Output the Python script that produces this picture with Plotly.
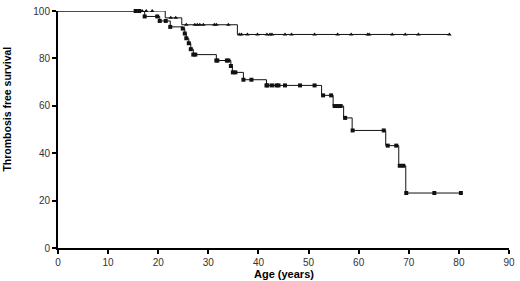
import numpy as np
import plotly.graph_objects as go

# Lower curve (squares): step times and survival after each step
low_times = [0, 17.3, 20.3, 22.4, 24.9, 25.3, 25.6, 26.1, 26.5, 27.0, 31.6, 34.5, 34.8,
             37.0, 41.6, 52.6, 54.9, 57.0, 58.7, 65.4, 68.0, 69.4]
low_surv = [100, 97.7, 95.8, 93.3, 92.6, 90.5, 88.5, 86.4, 83.9, 81.6, 79.1, 76.8, 74.1,
            71.0, 68.6, 64.4, 59.9, 54.9, 49.6, 43.2, 34.7, 23.2]
low_end = 80.4
low_marks = [15.5, 16.2, 17.3, 19.8, 20.3, 21.5, 22.4, 24.9, 25.3, 25.6, 26.1, 26.5, 27.0, 27.4,
             31.6, 31.8, 33.7, 34.0, 34.5, 34.9, 35.4, 37.0, 38.6, 41.6, 41.8, 42.7, 43.6, 44.0,
             45.3, 48.3, 51.2, 52.9, 54.5, 55.2, 55.8, 56.4, 57.3, 58.8, 65.0, 65.8, 67.5,
             68.2, 68.9, 69.5, 75.1, 80.4]

# Upper curve (triangles)
up_times = [0, 21.4, 24.7, 35.8]
up_surv = [100, 97.1, 94.2, 90.1]
up_end = 78.1
up_marks = [16.8, 17.6, 18.8, 22.5, 23.5, 25.6, 27.3, 27.8, 28.3, 29.0, 31.2, 31.6, 34.0,
            36.2, 36.6, 37.8, 39.8, 41.7, 42.3, 42.7, 45.3, 46.6, 51.2, 55.8, 58.5, 61.8,
            62.1, 66.7, 69.3, 71.9, 78.1]

x_ticks = [0, 10, 20, 30, 40, 50, 60, 70, 80, 90]
y_ticks = [0, 20, 40, 60, 80, 100]


def step_xy(times, surv, end):
    return list(times) + [end], list(surv) + [surv[-1]]


def level_at(times, surv, ages):
    idx = np.searchsorted(np.array(times), np.array(ages), side="right") - 1
    return [surv[i] for i in idx]


fig = go.Figure()
for times, surv, end, marks, sym in [
    (up_times, up_surv, up_end, up_marks, "triangle-up"),
    (low_times, low_surv, low_end, low_marks, "square"),
]:
    sx, sy = step_xy(times, surv, end)
    fig.add_trace(go.Scatter(x=sx, y=sy, mode="lines", line=dict(color="#111", width=1, shape="hv"),
                             showlegend=False, hoverinfo="skip", cliponaxis=False))
    fig.add_trace(go.Scatter(x=marks, y=level_at(times, surv, marks), mode="markers",
                             marker=dict(symbol=sym, size=4, color="#111"), showlegend=False,
                             cliponaxis=False))

tickfont = dict(family="Liberation Sans, Arial", size=10, color="#333")
axis_common = dict(showline=True, linewidth=2, linecolor="black", ticks="outside", ticklen=4,
                   tickwidth=1.5, tickcolor="black", showgrid=False, zeroline=False,
                   tickfont=tickfont, ticklabeloverflow="allow")
fig.update_layout(
    width=520, height=281,
    margin=dict(l=58, r=6, t=5, b=33),
    plot_bgcolor="white", paper_bgcolor="white",
    xaxis=dict(range=[0, 90], tickvals=x_ticks, **axis_common),
    yaxis=dict(range=[0, 100], tickvals=y_ticks, **axis_common),
    annotations=[
        dict(text="<b>Thrombosis free survival</b>", xref="paper", yref="paper", x=-0.112, y=0.586,
             textangle=-90, showarrow=False, xanchor="center", yanchor="middle",
             font=dict(family="Liberation Sans, Arial", size=10.5, color="black")),
        dict(text="<b>Age (years)</b>", xref="paper", yref="paper", x=0.5, y=-0.11,
             showarrow=False, xanchor="center", yanchor="middle",
             font=dict(family="Liberation Sans, Arial", size=11, color="black")),
    ],
)
fig.write_html("out.html", config={"displayModeBar": False},
               post_script="document.body.style.margin='0';")
